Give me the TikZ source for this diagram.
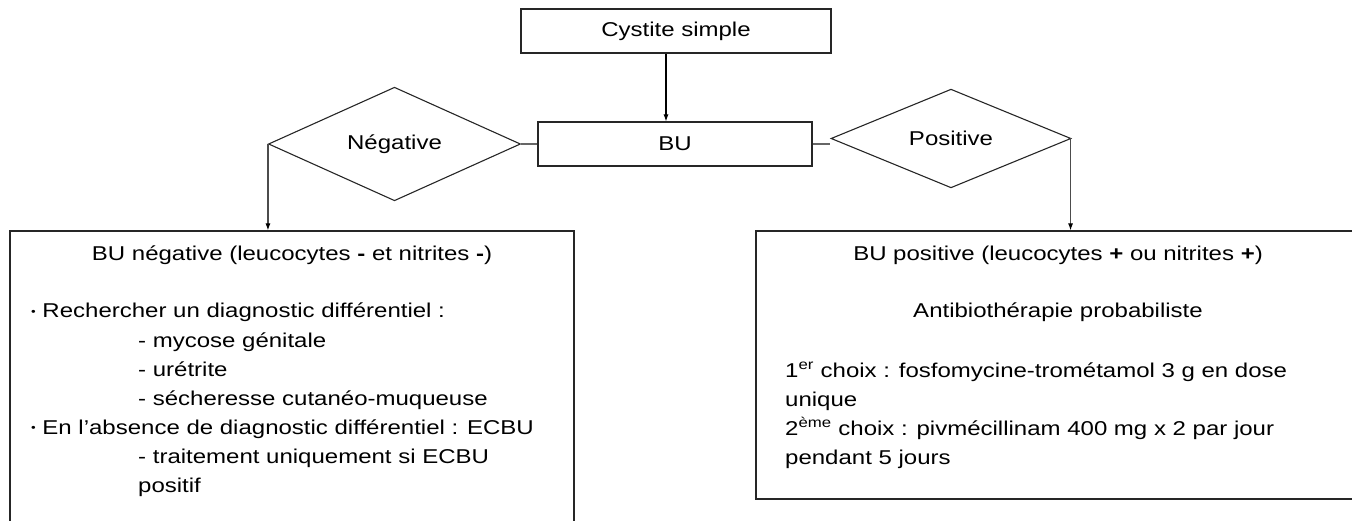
\documentclass[tikz,border=0pt]{standalone}
\usepackage{fontspec}
\setmainfont{Liberation Sans}[FakeStretch=1.2]
\usetikzlibrary{shapes.geometric,arrows.meta}
\newcommand{\mybul}{\raisebox{0.2ex}{\fontsize{11}{11}\selectfont •}}
\begin{document}
\begin{tikzpicture}[x=1pt,y=-1pt,
  every node/.style={font=\fontsize{20}{24}\selectfont},
  box/.style={draw=black!85,line width=1.1pt,rectangle,inner sep=0pt},
  dia/.style={draw=black!85,line width=1.1pt,diamond,inner sep=0pt},
  conn/.style={draw=black!60,line width=1.1pt},
  arr/.style={draw=black!70,line width=1.1pt,-{Latex[length=7pt,width=5pt,black]}},
  txt/.style={inner sep=0pt,anchor=base west},
  ctxt/.style={inner sep=0pt,anchor=base}]
\useasboundingbox (0,0) rectangle (1352,521);
\node[box,minimum width=310pt,minimum height=44pt] (cys) at (676,31) {Cystite simple};
\node[box,minimum width=274pt,minimum height=44pt] (bu) at (675,144) {BU};
\node[dia,minimum width=252pt,minimum height=83pt] (neg) at (394.5,144) {Négative};
\node[dia,minimum width=240pt,minimum height=83pt] (pos) at (951,138.5) {Positive};
\node[box,minimum width=564pt,minimum height=330pt] (lb) at (292,396) {};
\node[box,minimum width=640pt,minimum height=268pt] (rb) at (1076,365) {};
\draw[arr,draw=black] ([xshift=-10pt]cys.south) -- ([xshift=-9pt]bu.north);
\draw[conn] (bu.west) -- (neg.east);
\draw[conn] (bu.east) -- (bu.east -| pos.west);
\draw[arr] (neg.west) -- (neg.west |- lb.north);
\draw[arr] ([xshift=-1pt]pos.east) -- ([xshift=-1pt]pos.east |- rb.north);
\node[ctxt] (lt) at (292,261) {BU négative (leucocytes \textbf{-} et nitrites \textbf{-})};
\node[txt] (l1) at (31,318) {\mybul\ Rechercher un diagnostic différentiel :};
\node[txt] (l2) at (138,347) {- mycose génitale};
\node[txt] (l3) at (138,376) {- urétrite};
\node[txt] (l4) at (138,405) {- sécheresse cutanéo-muqueuse};
\node[txt] (l5) at (31,434) {\mybul\ En l’absence de diagnostic différentiel : ECBU};
\node[txt] (l6) at (138,463) {- traitement uniquement si ECBU};
\node[txt] (l7) at (138,492) {positif};
\node[ctxt] (rt) at (1058,261) {BU positive (leucocytes \textbf{+} ou nitrites \textbf{+})};
\node[ctxt] (r1) at (1058,318) {Antibiothérapie probabiliste};
\node[txt] (r2) at (785,377) {1\textsuperscript{er} choix : fosfomycine-trométamol 3 g en dose};
\node[txt] (r3) at (785,406) {unique};
\node[txt] (r4) at (785,435) {2\textsuperscript{ème} choix : pivmécillinam 400 mg x 2 par jour};
\node[txt] (r5) at (785,464) {pendant 5 jours};
\end{tikzpicture}
\end{document}
